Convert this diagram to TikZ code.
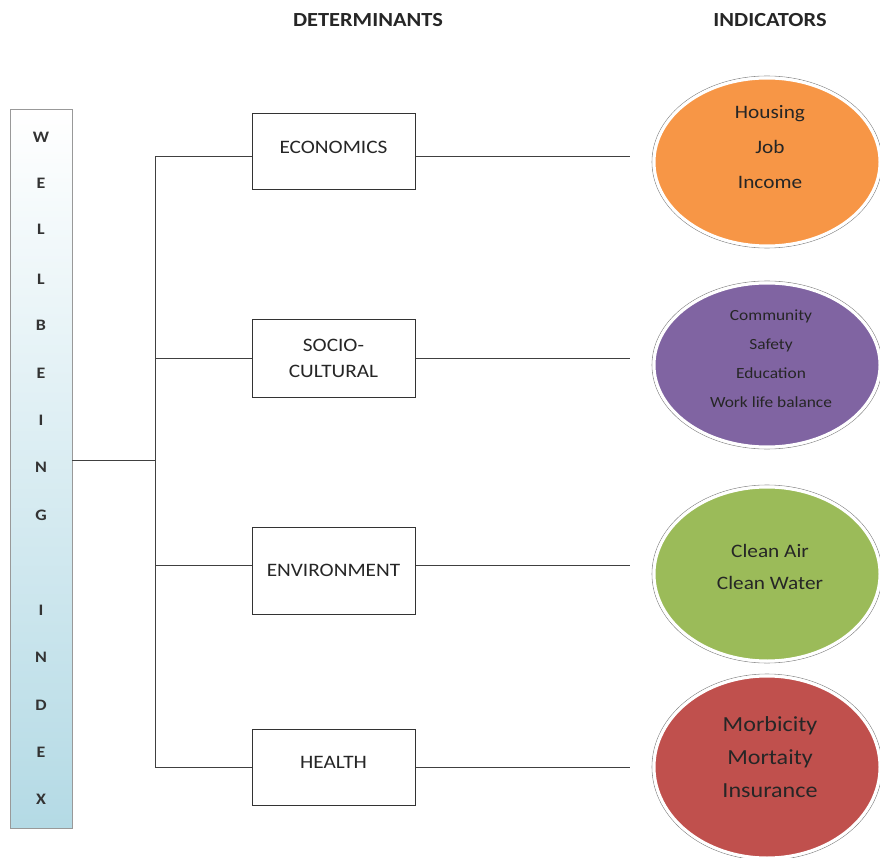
\documentclass[tikz,border=0pt]{standalone}
\usepackage{fontspec}
\setmainfont{Carlito}[FakeStretch=1.12]
\usetikzlibrary{shapes.geometric}
\definecolor{barblue}{HTML}{B4DAE5}
\definecolor{ecoorange}{HTML}{F79646}
\definecolor{socpurple}{HTML}{8064A2}
\definecolor{envgreen}{HTML}{9BBB59}
\definecolor{hlthred}{HTML}{C0504D}
\tikzset{
  conn/.style={draw=black!75, line width=1pt},
  detbox/.style={draw=black!80, line width=1pt, fill=white, minimum width=163pt, align=center, font=\fontsize{19}{26}\selectfont, text=black!85},
  ind/.style={ellipse, draw=white, line width=3pt, minimum width=226pt, align=center, text=black!85},
  ring/.style={draw=black!45, line width=0.6pt},
  hdr/.style={font=\fontsize{20}{22}\selectfont\bfseries, text=black!85},
  letter/.style={font=\fontsize{16}{18}\selectfont\bfseries, text=black!80}
}
\begin{document}
\begin{tikzpicture}[x=1pt,y=-1pt]
\useasboundingbox (0,0) rectangle (880,858);
% headers
\node[hdr] (h1) at (368,20) {DETERMINANTS};
\node[hdr] (h2) at (770,20) {INDICATORS};
% left bar
\shade[top color=white, bottom color=barblue, draw=black!40, line width=1pt] (10,110) rectangle (72,828);
\coordinate (barR) at (72,460);
\foreach \t/\y [count=\i] in {W/137,E/183,L/229,L/279,B/325,E/373,I/420,N/467,G/515,I/610,N/657,D/705,E/752,X/799}{
  \node[letter] (l\i) at (41,\y) {\t};
}
% trunk
\coordinate (tj) at (155,460);
\coordinate (t1) at (155,157);
\coordinate (t2) at (155,358);
\coordinate (t3) at (155,565);
\coordinate (t4) at (155,767);
\draw[conn] (barR) -- (tj);
\draw[conn] (t1) -- (t4);
% boxes
\node[detbox, minimum height=76pt] (eco) at (333.5,151.5) {\raisebox{9pt}{ECONOMICS}};
\node[detbox, minimum height=77pt] (soc) at (333.5,358.5) {SOCIO-\\CULTURAL};
\node[detbox, minimum height=87pt] (env) at (333.5,570.5) {ENVIRONMENT};
\node[detbox, minimum height=76pt] (hea) at (333.5,767) {\raisebox{9pt}{HEALTH}};
\draw[conn] (t1) -- (t1 -| eco.west);
\draw[conn] (t2) -- (t2 -| soc.west);
\draw[conn] (t3) -- (t3 -| env.west);
\draw[conn] (t4) -- (t4 -| hea.west);
% right connectors
\coordinate (r1) at (630,157);
\coordinate (r2) at (630,358);
\coordinate (r3) at (630,565);
\coordinate (r4) at (630,767);
\draw[conn] (r1 -| eco.east) -- (r1);
\draw[conn] (r2 -| soc.east) -- (r2);
\draw[conn] (r3 -| env.east) -- (r3);
\draw[conn] (r4 -| hea.east) -- (r4);
% ellipses
\draw[ring] (767,162) ellipse [x radius=115pt, y radius=86pt];
\node[ind, fill=ecoorange, minimum height=168pt] (o1) at (767,162) {};
\node[font=\fontsize{19}{35}\selectfont, align=center, text=black!85] (o1t) at (770,147) {Housing\\Job\\Income};
\draw[ring] (767,365) ellipse [x radius=115pt, y radius=84pt];
\node[ind, fill=socpurple, minimum height=164pt] (o2) at (767,365) {};
\node[font=\fontsize{15.5}{29}\selectfont, align=center, text=black!85] (o2t) at (771,358.5) {Community\\Safety\\Education\\Work life balance};
\draw[ring] (767,574) ellipse [x radius=115pt, y radius=89pt];
\node[ind, fill=envgreen, minimum height=174pt] (o3) at (767,574) {};
\node[font=\fontsize{19}{32}\selectfont, align=center, text=black!85] (o3t) at (770,567) {Clean Air\\Clean Water};
\draw[ring] (767,767) ellipse [x radius=115pt, y radius=93pt];
\node[ind, fill=hlthred, minimum height=182pt] (o4) at (767,767) {};
\node[font=\fontsize{21.5}{33}\selectfont, align=center, text=black!85] (o4t) at (770,757) {Morbicity\\Mortaity\\Insurance};
\end{tikzpicture}
\end{document}
